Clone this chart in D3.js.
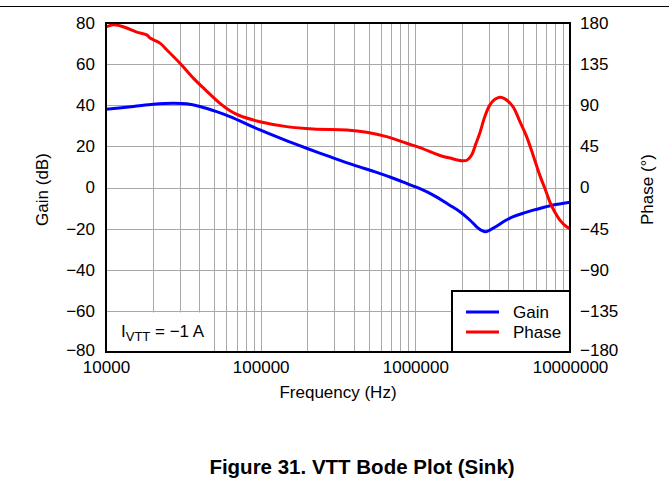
<!DOCTYPE html>
<html>
<head>
<meta charset="utf-8">
<script src="https://cdn.jsdelivr.net/npm/d3@7/dist/d3.min.js"></script>
<style>
  html, body { margin: 0; padding: 0; background: #fff; }
  svg { display: block; font-family: "Liberation Sans", Arial, sans-serif; }
</style>
</head>
<body>
<svg id="chart" width="671" height="495"></svg>
<script>
// Frequency response of the VTT regulator, sinking 1 A
const gainData = [
  [10000, 38.1], [15000, 39.4], [20200, 40.5], [27200, 41.0], [33200, 40.7],
  [40500, 39.4], [51900, 36.9], [63300, 34.5], [99000, 28.0], [140000, 23.4],
  [198000, 19.1], [280000, 15.0], [397000, 11.0], [550000, 7.6], [720000, 4.5],
  [900000, 1.6], [1071000, -0.6], [1305000, -3.7], [1650000, -8.4], [1943000, -11.8],
  [2250000, -15.8], [2490000, -19.1], [2700000, -21.0], [2860000, -21.5], [3050000, -20.6],
  [3354000, -18.8], [3800000, -16.2], [4295000, -14.2], [5000000, -12.5], [5783000, -11.0],
  [6800000, -9.6], [7788000, -8.5], [8900000, -7.8], [10000000, -7.2]
];

const phaseData = [
  [10000, 175.5], [10350, 176.5], [11150, 178], [11960, 177.5], [13610, 174.5],
  [15790, 170], [18340, 167], [19250, 163.5], [22340, 158], [24690, 150.7],
  [30090, 136], [36680, 119.7], [44760, 105.5], [54560, 92], [63330, 84],
  [73480, 78.5], [98970, 72], [147300, 66.6], [218800, 64], [359600, 63],
  [484400, 60.5], [652400, 55.7], [878700, 48.4], [1071000, 43.6], [1442000, 35],
  [1673000, 32.2], [2001000, 29.2], [2156000, 29.8], [2312000, 35.6], [2464000, 48],
  [2616000, 60], [2818000, 78], [3036000, 90.4], [3270000, 96.5], [3524000, 98.8],
  [3795000, 97], [4275000, 88.6], [4746000, 72], [5242000, 55.7], [5783000, 35],
  [6390000, 13], [6883000, -1], [7416000, -16], [7988000, -27], [8603000, -35.7],
  [9506000, -43], [10000000, -45]
];

const freqTicks = [10000, 100000, 1000000, 10000000];
const freqTickLabels = ["10000", "100000", "1000000", "10000000"];
const gainTicks = [80, 60, 40, 20, 0, -20, -40, -60, -80];
const gainTickLabels = ["80", "60", "40", "20", "0", "\u221220", "\u221240", "\u221260", "\u221280"];
const phaseTicks = [180, 135, 90, 45, 0, -45, -90, -135, -180];
const phaseTickLabels = ["180", "135", "90", "45", "0", "\u221245", "\u221290", "\u2212135", "\u2212180"];
const seriesNames = ["Gain", "Phase"];
const seriesColors = ["#0000ff", "#ff0000"];

const svg = d3.select("#chart");
const plot = { left: 106, right: 570, top: 23, bottom: 352 };

const x = d3.scaleLog().domain([10000, 10000000]).range([plot.left, plot.right]);
const yGain = d3.scaleLinear().domain([-80, 80]).range([plot.bottom, plot.top]);
const yPhase = d3.scaleLinear().domain([-180, 180]).range([plot.bottom, plot.top]);

// Header rule
svg.append("line")
  .attr("x1", 0).attr("x2", 669).attr("y1", 6.5).attr("y2", 6.5)
  .attr("stroke", "#000").attr("stroke-width", 1);

// Grid: log-spaced verticals, horizontal at each gain tick
const minorFreqs = [];
for (let d = 10000; d < 10000000; d *= 10) {
  for (let m = 1; m <= 9; m++) minorFreqs.push(d * m);
}
const grid = svg.append("g").attr("stroke", "#a8a8a8").attr("stroke-width", 1);
grid.selectAll("line.v").data(minorFreqs.slice(1)).join("line")
  .attr("class", "v")
  .attr("x1", d => Math.round(x(d)) + 0.5).attr("x2", d => Math.round(x(d)) + 0.5)
  .attr("y1", plot.top).attr("y2", plot.bottom);
grid.selectAll("line.h").data(gainTicks.slice(1, -1)).join("line")
  .attr("class", "h")
  .attr("x1", plot.left).attr("x2", plot.right)
  .attr("y1", d => Math.round(yGain(d)) + 0.5).attr("y2", d => Math.round(yGain(d)) + 0.5);

// White backing for the operating-condition note (bottom-left corner)
svg.append("rect")
  .attr("x", plot.left).attr("y", Math.round(yGain(-60)) + 1.5)
  .attr("width", x(48000) - plot.left).attr("height", plot.bottom - yGain(-60) - 1.5)
  .attr("fill", "#fff");

// Curves
const lineGen = yScale => d3.line()
  .x(d => x(d[0]))
  .y(d => yScale(d[1]))
  .curve(d3.curveCatmullRom.alpha(0.5));

svg.append("path").datum(gainData)
  .attr("fill", "none").attr("stroke", seriesColors[0]).attr("stroke-width", 3)
  .attr("stroke-linejoin", "round").attr("d", lineGen(yGain));
svg.append("path").datum(phaseData)
  .attr("fill", "none").attr("stroke", seriesColors[1]).attr("stroke-width", 3)
  .attr("stroke-linejoin", "round").attr("d", lineGen(yPhase));

// Plot frame
svg.append("rect")
  .attr("x", plot.left).attr("y", plot.top)
  .attr("width", plot.right - plot.left).attr("height", plot.bottom - plot.top)
  .attr("fill", "none").attr("stroke", "#000").attr("stroke-width", 2);

// Axes (labels only)
const fontSize = 17;
const xAxis = svg.append("g")
  .attr("transform", `translate(0,${plot.bottom})`)
  .call(d3.axisBottom(x).tickValues(freqTicks)
    .tickFormat((d, i) => freqTickLabels[i]).tickSize(0).tickPadding(9));
const yAxisL = svg.append("g")
  .attr("transform", `translate(${plot.left},0)`)
  .call(d3.axisLeft(yGain).tickValues(gainTicks)
    .tickFormat((d, i) => gainTickLabels[i]).tickSize(0).tickPadding(11));
const yAxisR = svg.append("g")
  .attr("transform", `translate(${plot.right},0)`)
  .call(d3.axisRight(yPhase).tickValues(phaseTicks)
    .tickFormat((d, i) => phaseTickLabels[i]).tickSize(0).tickPadding(10));
[xAxis, yAxisL, yAxisR].forEach(a => {
  a.select(".domain").remove();
  a.selectAll("text").attr("font-size", fontSize).attr("fill", "#000")
    .attr("font-family", "'Liberation Sans', Arial, sans-serif");
});
// Bottom-most side labels sit a touch high so they clear the frequency labels
yAxisL.selectAll(".tick").filter(d => d === -80).select("text").attr("dy", "0.2em");
yAxisR.selectAll(".tick").filter(d => d === -180).select("text").attr("dy", "0.2em");

// Axis titles
svg.append("text")
  .attr("x", (plot.left + plot.right) / 2).attr("y", 398)
  .attr("text-anchor", "middle").attr("font-size", fontSize).text("Frequency (Hz)");
svg.append("text")
  .attr("transform", `translate(48,${(plot.top + plot.bottom) / 2 + 2}) rotate(-90)`)
  .attr("text-anchor", "middle").attr("font-size", fontSize).text("Gain (dB)");
svg.append("text")
  .attr("transform", `translate(653,${(plot.top + plot.bottom) / 2 + 2}) rotate(-90)`)
  .attr("text-anchor", "middle").attr("font-size", fontSize).text("Phase (\u00b0)");

// Operating condition note
const note = svg.append("text").attr("x", 121).attr("y", 337).attr("font-size", fontSize);
note.append("tspan").text("I");
note.append("tspan").attr("dy", 4).attr("font-size", 13).text("VTT");
note.append("tspan").attr("dy", -4).text(" = \u22121 A");

// Legend
const legend = svg.append("g");
legend.append("rect")
  .attr("x", 452).attr("y", 291).attr("width", 118).attr("height", 61)
  .attr("fill", "#fff").attr("stroke", "#000").attr("stroke-width", 2);
seriesNames.forEach((name, i) => {
  const ly = 312 + i * 20;
  legend.append("line")
    .attr("x1", 466).attr("x2", 499).attr("y1", ly).attr("y2", ly)
    .attr("stroke", seriesColors[i]).attr("stroke-width", 3);
  legend.append("text")
    .attr("x", 513).attr("y", ly + 6).attr("font-size", fontSize).text(name);
});

// Figure caption
svg.append("text")
  .attr("x", 362).attr("y", 474).attr("text-anchor", "middle")
  .attr("font-size", 20.5).attr("font-weight", "bold")
  .text("Figure 31. VTT Bode Plot (Sink)");
</script>
</body>
</html>
